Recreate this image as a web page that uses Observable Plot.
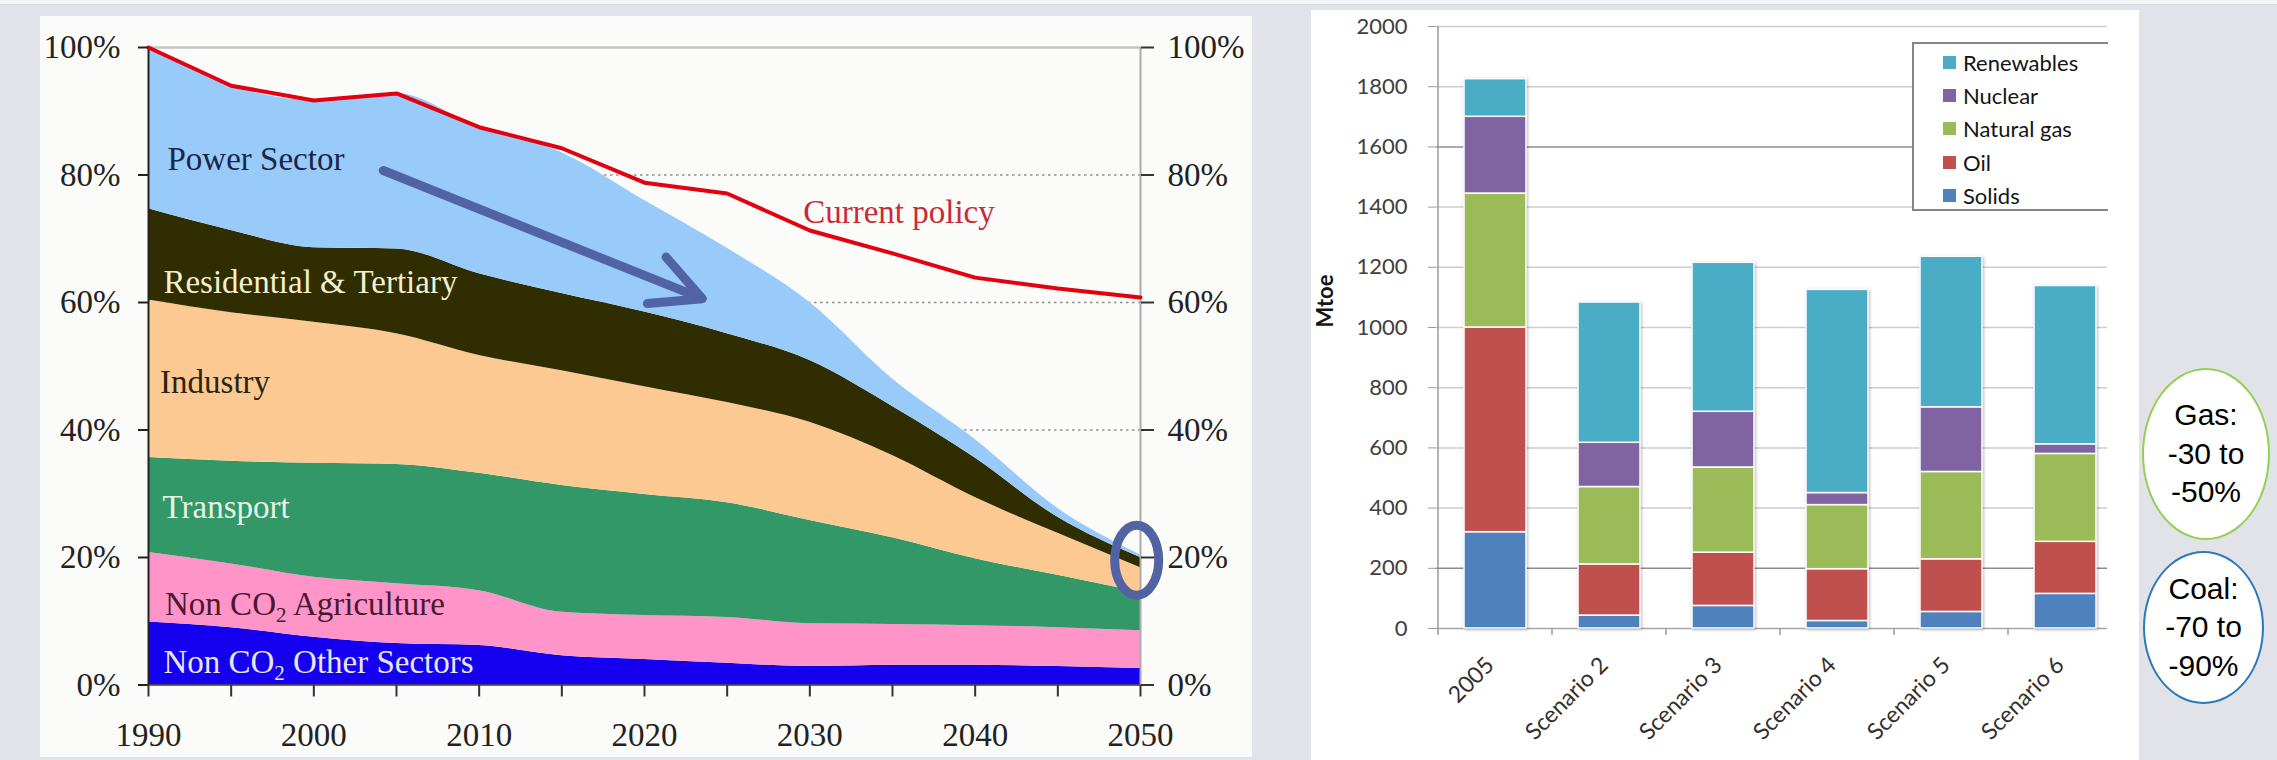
<!DOCTYPE html>
<html>
<head>
<meta charset="utf-8">
<script src="https://cdn.jsdelivr.net/npm/d3@7"></script>
<script src="https://cdn.jsdelivr.net/npm/@observablehq/plot@0.6"></script>
<style>
  html, body { margin: 0; padding: 0; }
  body { width: 2277px; height: 760px; background: #e2e3e8; position: relative; overflow: hidden; }
  #topstrip { position: absolute; left: 0; top: 0; width: 2277px; height: 4px; background: #f4f5f7; border-bottom: 1px solid #d6d7dc; }
  #left { position: absolute; left: 40px; top: 16px; width: 1212px; height: 741px; background: #fbfcf9; }
  #left svg, #right svg { position: absolute; left: 0; top: 0; }
  #right { position: absolute; left: 1311px; top: 10px; width: 828px; height: 750px; background: #ffffff; }
  #legend { position: absolute; left: 601px; top: 32px; width: 194px; height: 163px; padding-top: 2px;
            border: 2px solid #868686; border-right: none; background: #fff;
            font: 22px Lato, "Open Sans", sans-serif; color: #141414; }
  #legend .row { height: 33.2px; line-height: 33.2px; display: flex; align-items: center; padding-left: 29px; }
  #legend .sw { width: 13px; height: 13px; margin-right: 7px; }
  .callout { position: absolute; box-sizing: border-box; border: 2px solid; border-radius: 50%; background: #fff;
             display: flex; flex-direction: column; align-items: center; justify-content: center;
             font: 30px "Liberation Sans", Arial, sans-serif; line-height: 38.5px; color: #000; text-align: center; }
  #gas { left: 2142px; top: 368px; width: 128px; height: 172px; border-color: #92d050; }
  #coal { left: 2143px; top: 551px; width: 121px; height: 153px; border-color: #2a7ab8; }
</style>
</head>
<body>
<div id="topstrip"></div>
<div id="left"></div>
<div id="right"><div id="legend"></div></div>
<div class="callout" id="gas"></div>
<div class="callout" id="coal"></div>
<script>
// ---- Emissions by sector, share of 1990 level (%) ----
const years = [1990, 1995, 2000, 2005, 2010, 2015, 2020, 2025, 2030, 2035, 2040, 2045, 2050];
const nonCO2Other       = [9.9, 9.0, 7.5, 6.5, 6.2, 4.6, 4.0, 3.4, 2.9, 3.1, 3.1, 2.9, 2.6];
const nonCO2Agriculture = [10.9, 10.0, 9.4, 9.4, 8.6, 6.8, 6.9, 7.2, 6.7, 6.4, 6.2, 6.1, 5.9];
const transport         = [14.9, 16.1, 17.9, 18.7, 18.4, 19.9, 19.0, 18.0, 16.2, 13.6, 10.5, 8.2, 6.0];
const industry          = [24.7, 23.3, 22.1, 20.5, 18.5, 18.0, 16.9, 15.7, 15.4, 12.9, 9.6, 6.6, 3.9];
const residential       = [14.3, 12.9, 11.7, 13.3, 12.8, 12.1, 11.7, 10.8, 9.7, 7.7, 6.2, 2.5, 1.6];
const powerSector       = [25.3, 22.7, 23.1, 24.4, 23.0, 22.1, 17.5, 13.4, 9.1, 4.3, 2.9, 1.4, 0.4];
const currentPolicy     = [100, 94.0, 91.7, 92.8, 87.5, 84.2, 78.8, 77.1, 71.3, 67.7, 63.9, 62.2, 60.8];

const sectorNames  = ["Non CO2 Other Sectors", "Non CO2 Agriculture", "Transport", "Industry", "Residential & Tertiary", "Power Sector"];
const sectorShares = [nonCO2Other, nonCO2Agriculture, transport, industry, residential, powerSector];
const sectorColors = ["#1400ee", "#ff94c8", "#329868", "#fdc993", "#302d00", "#98cafa"];

const pctTicks   = [0, 20, 40, 60, 80, 100];
const gridPct    = [20, 40, 60, 80];
const yearMinor  = [1990, 1995, 2000, 2005, 2010, 2015, 2020, 2025, 2030, 2035, 2040, 2045, 2050];
const yearMajor  = [1990, 2000, 2010, 2020, 2030, 2040, 2050];

// In-chart labels, placed in data space (year, percent)
const areaLabels = [
  {text: "Power Sector",           year: 1991.15, pct: 82.5},
  {text: "Residential & Tertiary", year: 1990.9,  pct: 63.2},
  {text: "Industry",               year: 1990.7,  pct: 47.4},
  {text: "Transport",              year: 1990.85, pct: 27.9},
  {text: "Non CO2 Agriculture",    year: 1991.0,  pct: 12.6},
  {text: "Non CO2 Other Sectors",  year: 1990.9,  pct: 3.6}
];
const areaLabelColors = ["#1b2547", "#f3efcf", "#2a2410", "#e6f3e6", "#4a1830", "#e6e6ff"];
const policyLabel = [{text: "Current policy", year: 2029.6, pct: 74.2}];
const trendArrow  = [{x1: 2004.2, y1: 80.7, x2: 2023.5, y2: 60.6}];
const focusMark   = {year: 2049.8, pct: 19.5, halfYears: 1.33, halfPct: 5.5};

// ---- Primary energy mix by scenario (Mtoe) ----
const scenarios   = ["2005", "Scenario 2", "Scenario 3", "Scenario 4", "Scenario 5", "Scenario 6"];
const solids      = [320, 43, 75, 25, 55, 115];
const oil         = [680, 170, 177, 172, 175, 173];
const naturalGas  = [445, 257, 283, 213, 290, 292];
const nuclear     = [255, 147, 185, 40, 215, 32];
const renewables  = [125, 466, 495, 675, 500, 526];
const fuels       = ["Solids", "Oil", "Natural gas", "Nuclear", "Renewables"];
const fuelValues  = [solids, oil, naturalGas, nuclear, renewables];
const fuelColors  = ["#4f81bd", "#c0504d", "#9bbb59", "#8064a2", "#4bacc6"];
const mtoeTicks   = [0, 200, 400, 600, 800, 1000, 1200, 1400, 1600, 1800, 2000];
const mtoeDarkGrid = [200, 1600];

const calloutText = {
  gas:  ["Gas:", "-30 to", "-50%"],
  coal: ["Coal:", "-70 to", "-90%"]
};

// ---------- Left: stacked sector shares ----------
const layers = sectorNames.flatMap((s, k) =>
  years.map((yr, i) => ({year: yr, sector: s, share: sectorShares[k][i]})));
const policy = years.map((yr, i) => ({year: yr, pct: currentPolicy[i]}));
const pctFormat = d => d + "%";

const left = Plot.plot({
  width: 1212, height: 741,
  marginLeft: 108, marginRight: 112, marginTop: 31, marginBottom: 72.5,
  style: {background: "transparent", fontFamily: "'Liberation Serif', 'Times New Roman', serif", fontSize: "33px", color: "#222", overflow: "visible"},
  x: {domain: [1990, 2050]},
  y: {domain: [0, 100]},
  color: {domain: sectorNames, range: sectorColors},
  marks: [
    Plot.ruleY(gridPct, {stroke: "#8e8e8e", strokeWidth: 1.5, strokeDasharray: "2.5,3.5"}),
    Plot.areaY(layers, {x: "year", y: "share", fill: "sector", curve: "monotone-x"}),
    Plot.ruleY([100], {stroke: "#c4c4c4", strokeWidth: 2.5}),
    Plot.ruleX([2050], {stroke: "#ababab", strokeWidth: 2}),
    Plot.ruleX([1990], {stroke: "#222", strokeWidth: 2}),
    Plot.ruleY([0], {stroke: "#333", strokeWidth: 1.5}),
    Plot.line(policy, {x: "year", y: "pct", stroke: "#e3000f", strokeWidth: 4}),
    Plot.axisY({anchor: "left", ticks: pctTicks, tickFormat: pctFormat, tickSize: 10, tickPadding: 18, strokeWidth: 2, stroke: "#222", fill: "#222", label: null}),
    Plot.axisY({anchor: "right", ticks: pctTicks, tickFormat: pctFormat, tickSize: 13, tickPadding: 14, strokeWidth: 2, stroke: "#333", fill: "#222", label: null}),
    Plot.axisX({ticks: yearMinor, tickSize: 12, tickFormat: () => "", strokeWidth: 2, stroke: "#333", label: null}),
    Plot.axisX({ticks: yearMajor, tickSize: 0, tickPadding: 38, tickFormat: d => String(d), fill: "#222", label: null}),
    ...areaLabels.map((l, i) => Plot.text([l], {x: "year", y: "pct", text: "text", textAnchor: "start", fill: areaLabelColors[i]})),
    Plot.text(policyLabel, {x: "year", y: "pct", text: "text", textAnchor: "start", fill: "#c92a3a"}),
    Plot.arrow(trendArrow, {x1: "x1", y1: "y1", x2: "x2", y2: "y2", stroke: "#5263a3", strokeWidth: 9, headLength: 9.2, headAngle: 54, strokeLinecap: "round"})
  ]
});
document.getElementById("left").appendChild(left);

// CO2 subscripts
d3.select(left).selectAll("text").filter(function () { return this.textContent.includes("CO2"); })
  .each(function () {
    const [before, after] = this.textContent.split("CO2");
    const t = d3.select(this).text(null);
    t.append("tspan").text(before + "CO");
    t.append("tspan").attr("dy", 7).attr("font-size", 21).text("2");
    t.append("tspan").attr("dy", -7).text(after);
  });

// Ring around the 2050 end point
{
  const sx = left.scale("x"), sy = left.scale("y");
  const cx = sx.apply(focusMark.year), cy = sy.apply(focusMark.pct);
  d3.select(left).append("ellipse")
    .attr("cx", cx).attr("cy", cy)
    .attr("rx", sx.apply(focusMark.year + focusMark.halfYears) - cx)
    .attr("ry", cy - sy.apply(focusMark.pct + focusMark.halfPct))
    .attr("fill", "none").attr("stroke", "#5263a3").attr("stroke-width", 9);
}

// ---------- Right: stacked energy mix ----------
const mix = scenarios.flatMap((s, i) => fuels.map((f, k) => ({scenario: s, fuel: f, mtoe: fuelValues[k][i]})));

const right = Plot.plot({
  width: 796, height: 750,
  marginLeft: 125, marginRight: 0, marginTop: 16, marginBottom: 132,
  style: {background: "transparent", fontFamily: "Lato, 'Open Sans', sans-serif", fontSize: "22px", color: "#404040"},
  x: {type: "band", domain: scenarios, range: [125, 813], paddingInner: 0.46, paddingOuter: 0.23, axis: null},
  y: {domain: [0, 2000]},
  color: {domain: fuels, range: fuelColors},
  marks: [
    Plot.ruleY(mtoeTicks.filter(v => v > 0 && !mtoeDarkGrid.includes(v)), {stroke: "#cdcdcd", strokeWidth: 1.5}),
    Plot.ruleY(mtoeDarkGrid, {stroke: "#8c8c8c", strokeWidth: 1.5}),
    Plot.ruleY([0], {stroke: "#a6a6a6", strokeWidth: 1.5}),
    Plot.barY(mix, {x: "scenario", y: "mtoe", fill: "fuel", stroke: "#fff", strokeWidth: 1.5}),
    Plot.axisY({ticks: mtoeTicks, tickFormat: d => String(d), tickSize: 8, tickPadding: 21, stroke: "#9a9a9a", fill: "#404040", label: null}),
    Plot.text(scenarios, {x: d => d, text: d => d, frameAnchor: "bottom", rotate: -45, textAnchor: "end", dy: 38, fontSize: 23, fill: "#303030"}),
    Plot.text(["Mtoe"], {text: d => d, y: [1000], frameAnchor: "left", dx: -111, rotate: -90, fontWeight: "bold", fontSize: 22, fill: "#151515"})
  ]
});
document.getElementById("right").insertBefore(right, document.getElementById("legend"));

// Soft bar shadow, value axis line and category boundary ticks
{
  d3.select(right).selectAll("g[aria-label='bar']").style("filter", "drop-shadow(1.5px 1.5px 1.5px rgba(0,0,0,0.28))");
  const bx = right.scale("x"), by = right.scale("y");
  const step = bx.step ?? (bx.range[1] - bx.range[0]) / scenarios.length;
  const bw = bx.bandwidth;
  const y0 = by.apply(0), yTop = by.apply(2000);
  const g = d3.select(right).append("g").attr("stroke", "#9a9a9a").attr("stroke-width", 1.5);
  scenarios.forEach((s, i) => {
    const xb = bx.apply(s) - (step - bw) / 2;
    g.append("line").attr("x1", xb).attr("x2", xb).attr("y1", i === 0 ? yTop : y0).attr("y2", y0 + 7);
  });
}

// Legend (top series first)
{
  const legend = d3.select("#legend");
  fuels.slice().reverse().forEach(f => {
    const row = legend.append("div").attr("class", "row");
    row.append("div").attr("class", "sw").style("background", fuelColors[fuels.indexOf(f)]);
    row.append("span").text(f);
  });
}

// Callouts
for (const [id, lines] of Object.entries(calloutText)) {
  const el = d3.select("#" + id);
  lines.forEach(t => el.append("div").text(t));
}
</script>
</body>
</html>
